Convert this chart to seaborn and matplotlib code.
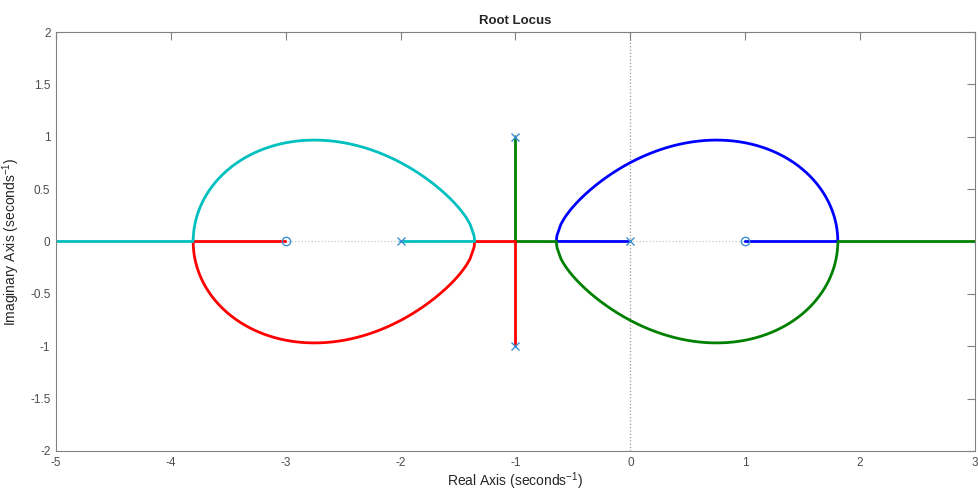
import numpy as np
import pandas as pd
import matplotlib.pyplot as plt
import seaborn as sns

# open-loop poles / zeros (x = pole, o = zero)
poles = np.array([0, -2, -1 + 1j, -1 - 1j])
zeros = np.array([-3, 1])
gain_sign = -1  # real-axis segments show the negative-gain locus
branches = ['branch 1', 'branch 2', 'branch 3', 'branch 4']
branch_colors = ['#0000ff', '#008000', '#ff0000', '#00bfbf']
xticks = [-5, -4, -3, -2, -1, 0, 1, 2, 3]
yticks = [-2, -1.5, -1, -0.5, 0, 0.5, 1, 1.5, 2]

sns.set_style('white')
plt.rcParams['font.family'] = ['Liberation Sans', 'DejaVu Sans']
plt.rcParams['mathtext.default'] = 'regular'

# gain grid, dense around the places where branches meet
gains = np.unique(np.concatenate([
    np.linspace(0, 0.249, 2000),
    np.linspace(0.249, 0.2545, 20001),
    np.linspace(0.2545, 15.7, 4000),
    np.linspace(15.7, 15.8, 10001),
    np.linspace(15.8, 60, 3000),
    np.geomspace(60, 1e6, 3000),
]))

den = np.poly(poles).real
num = np.poly(zeros).real
num = np.concatenate([np.zeros(len(den) - len(num)), num])

rows = []
phase = 1
for k in gains:
    r = np.roots(den + gain_sign * k * num)
    n_real = int((np.abs(r.imag) < 1e-6).sum())
    if phase == 1 and n_real == 4:
        phase = 2
    elif phase in (1, 2) and n_real == 0:
        phase = 3
    elif phase == 3 and n_real == 4:
        phase = 4

    by_re = r[np.argsort(r.real)]
    if phase == 1:
        by_im = r[np.argsort(r.imag)]
        mid = by_im[1:3][np.argsort(by_im[1:3].real)]
        order = [mid[1], by_im[3], by_im[0], mid[0]]
    elif phase == 2:
        order = [by_re[3], by_re[2], by_re[1], by_re[0]]
    elif phase == 3:
        left = by_re[:2][np.argsort(by_re[:2].imag)]
        right = by_re[2:][np.argsort(by_re[2:].imag)]
        order = [right[1], right[0], left[0], left[1]]
    else:
        order = [by_re[2], by_re[3], by_re[1], by_re[0]]
    for name, s in zip(branches, order):
        rows.append((name, s.real, s.imag))

df = pd.DataFrame(rows, columns=['branch', 're', 'im'])

fig = plt.figure(figsize=(9.79, 4.91), dpi=100)
ax = fig.add_axes([0.0572, 0.0815, 0.9387, 0.8533])

ax.axhline(0, color='#c8c8c8', lw=0.9, ls=':', zorder=0)
ax.axvline(0, color='#999999', lw=0.9, ls=':', zorder=0)

sns.lineplot(data=df, x='re', y='im', hue='branch', hue_order=branches,
             palette=dict(zip(branches, branch_colors)), sort=False,
             estimator=None, linewidth=2, legend=False, ax=ax)

ax.plot(poles.real, poles.imag, 'x', color='#3d8fd1', ms=5.5, mew=1, zorder=5)
ax.plot(zeros.real, zeros.imag, 'o', mfc='none', mec='#3d8fd1', ms=6, mew=1, zorder=5)

ax.set_xlim(-5, 3)
ax.set_ylim(-2, 2)
ax.set_xticks(xticks)
ax.set_yticks(yticks)
ax.set_xticklabels([f'{v:g}' for v in xticks])
ax.set_yticklabels([f'{v:g}' for v in yticks])
ax.tick_params(direction='in', length=5.8, width=0.8, colors='#808080',
               labelcolor='#4d4d4d', labelsize=8.5, top=True, right=True, pad=4)
for sp in ax.spines.values():
    sp.set_color('#808080')
    sp.set_linewidth(0.8)

ax.set_title('Root Locus', fontsize=9.5, fontweight='bold', pad=6)
ax.set_xlabel('Real Axis (seconds$^{-1}$)', fontsize=10, color='#262626', labelpad=1)
ax.set_ylabel('Imaginary Axis (seconds$^{-1}$)', fontsize=10, color='#262626', labelpad=6)

fig.savefig('out.png', dpi=100)
